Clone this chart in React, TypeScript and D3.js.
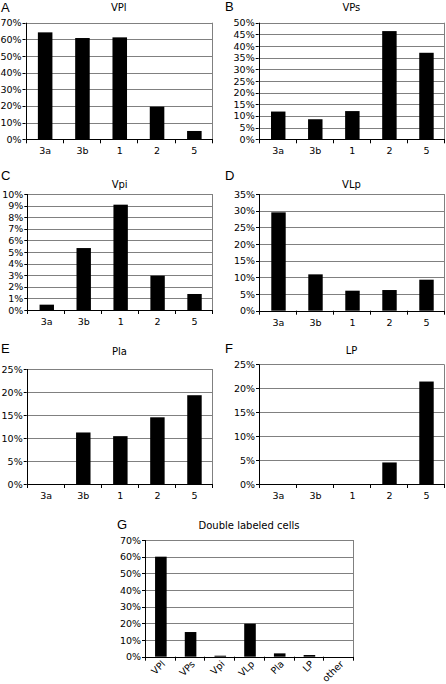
import React from "react";
import * as d3 from "d3";

const areaCats = ["3a", "3b", "1", "2", "5"];
const vplValues = [0.642, 0.608, 0.612, 0.196, 0.05];
const vpsValues = [0.119, 0.086, 0.121, 0.464, 0.371];
const vpiValues = [0.0046, 0.0534, 0.0908, 0.0296, 0.0138];
const vlpValues = [0.295, 0.109, 0.06, 0.062, 0.093];
const plaValues = [0, 0.112, 0.104, 0.145, 0.193];
const lpValues = [0, 0, 0, 0.045, 0.214];
const doubleCats = ["VPl", "VPs", "Vpi", "VLp", "Pla", "LP", "other"];
const doubleValues = [0.6, 0.148, 0.006, 0.198, 0.02, 0.01, 0];

const panelLetters = ["A", "B", "C", "D", "E", "F", "G"];
const panelTitles = ["VPl", "VPs", "Vpi", "VLp", "Pla", "LP", "Double labeled cells"];
const yMaxes = [0.7, 0.5, 0.1, 0.35, 0.25, 0.25, 0.7];
const ySteps = [0.1, 0.05, 0.01, 0.05, 0.05, 0.05, 0.1];

const FONT = "'DejaVu Sans', Verdana, sans-serif";

type PanelProps = {
  letter: string;
  title: string;
  cats: string[];
  values: number[];
  yMax: number;
  yStep: number;
  box: { l: number; r: number; t: number; b: number };
  letterPos: [number, number];
  titleY: number;
  rotate?: boolean;
};

function Panel({ letter, title, cats, values, yMax, yStep, box, letterPos, titleY, rotate }: PanelProps) {
  const x = d3.scaleBand<string>().domain(cats).range([box.l, box.r]).padding(0);
  const y = d3.scaleLinear().domain([0, yMax]).range([box.b, box.t]);
  const n = Math.round(yMax / yStep);
  const ticks = d3.range(n + 1).map((i) => i * yStep);
  const fmt = d3.format(".0%");
  const bw = x.bandwidth() * 0.39;
  const boundaries = cats.map((c) => x(c)!).concat([box.r]);
  const crisp = (v: number) => Math.round(v) + 0.5;
  return (
    <g>
      <text x={letterPos[0]} y={letterPos[1]} fontFamily="'Liberation Sans', Arial, sans-serif" fontSize={13}>
        {letter}
      </text>
      <text x={(box.l + box.r) / 2} y={titleY} textAnchor="middle" fontFamily={FONT} fontSize={10}>
        {title}
      </text>
      {ticks.slice(1).map((t) => (
        <line key={"g" + t} x1={box.l} x2={box.r} y1={crisp(y(t))} y2={crisp(y(t))} stroke="#808080" strokeWidth={1} />
      ))}
      <line x1={crisp(box.r)} x2={crisp(box.r)} y1={box.t} y2={box.b} stroke="#808080" strokeWidth={1} />
      {cats.map((c, i) => {
        const v = values[i];
        const cx = x(c)! + x.bandwidth() / 2 + 1;
        return (
          <rect key={"b" + c} x={cx - bw / 2} y={y(v)} width={bw} height={box.b - y(v)} fill="#000" />
        );
      })}
      <line x1={crisp(box.l)} x2={crisp(box.l)} y1={box.t} y2={crisp(box.b)} stroke="#000" strokeWidth={1} />
      <line x1={box.l} x2={box.r + 1} y1={crisp(box.b)} y2={crisp(box.b)} stroke="#000" strokeWidth={1} />
      {ticks.map((t) => (
        <g key={"t" + t}>
          <line x1={box.l - 3} x2={box.l} y1={crisp(y(t))} y2={crisp(y(t))} stroke="#000" strokeWidth={1} />
          <text x={box.l - 4} y={y(t) + 3.5} textAnchor="end" fontFamily={FONT} fontSize={9.5}>
            {fmt(t)}
          </text>
        </g>
      ))}
      {boundaries.map((bx, i) => (
        <line key={"xt" + i} x1={crisp(bx)} x2={crisp(bx)} y1={box.b} y2={box.b + 4} stroke="#000" strokeWidth={1} />
      ))}
      {cats.map((c) => {
        const cx = x(c)! + x.bandwidth() / 2 + 1;
        return rotate ? (
          <text
            key={"l" + c}
            transform={`translate(${cx + 5},${box.b + 8}) rotate(-45)`}
            textAnchor="end"
            fontFamily={FONT}
            fontSize={9.5}
          >
            {c}
          </text>
        ) : (
          <text key={"l" + c} x={cx} y={box.b + 15} textAnchor="middle" fontFamily={FONT} fontSize={9.5}>
            {c}
          </text>
        );
      })}
    </g>
  );
}

export default function App() {
  const series = [vplValues, vpsValues, vpiValues, vlpValues, plaValues, lpValues, doubleValues];
  const boxes = [
    { l: 25.5, r: 212, t: 22.7, b: 139.3 },
    { l: 258.7, r: 444, t: 22.7, b: 139.3 },
    { l: 27.3, r: 212, t: 194, b: 310 },
    { l: 259, r: 444, t: 194, b: 310.7 },
    { l: 26.7, r: 212, t: 369, b: 484 },
    { l: 259, r: 444, t: 364.3, b: 484 },
    { l: 145, r: 353, t: 540, b: 656.7 },
  ];
  const letterPos: [number, number][] = [
    [1, 12],
    [225, 11],
    [1, 180],
    [225, 180],
    [1, 353],
    [225, 353],
    [117, 529],
  ];
  const titleYs = [11, 11, 188, 188, 355, 354, 529];
  return (
    <svg width={446} height={684} style={{ position: "absolute", left: 0, top: 0, background: "#fff" }}>
      <rect x={0} y={0} width={446} height={684} fill="#fff" />
      {series.map((vals, i) => (
        <Panel
          key={i}
          letter={panelLetters[i]}
          title={panelTitles[i]}
          cats={i === 6 ? doubleCats : areaCats}
          values={vals}
          yMax={yMaxes[i]}
          yStep={ySteps[i]}
          box={boxes[i]}
          letterPos={letterPos[i]}
          titleY={titleYs[i]}
          rotate={i === 6}
        />
      ))}
    </svg>
  );
}
